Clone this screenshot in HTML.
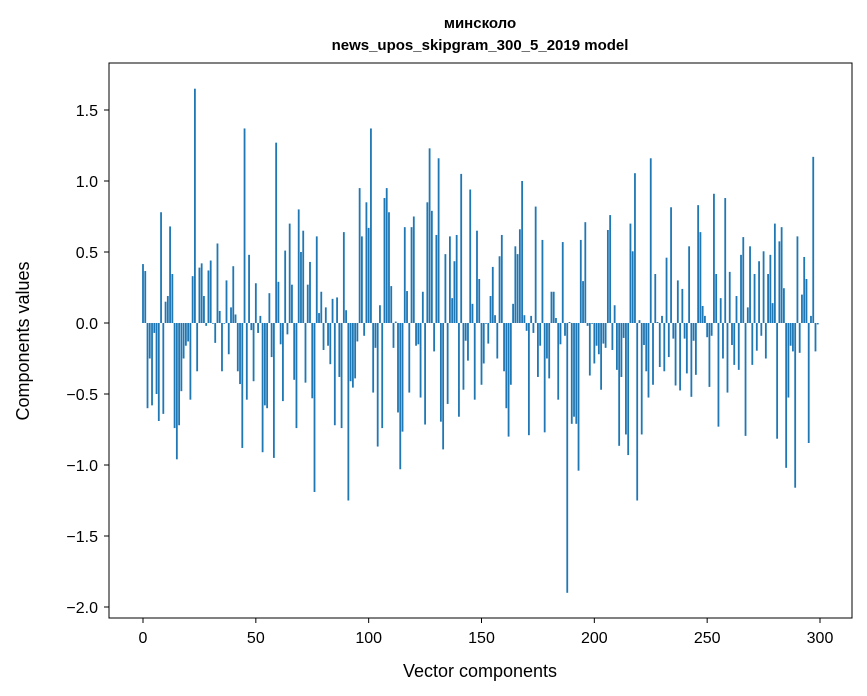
<!DOCTYPE html>
<html><head><meta charset="utf-8"><style>
html,body{margin:0;padding:0;background:#fff;}
svg{display:block;font-family:"Liberation Sans","DejaVu Sans",sans-serif;}
</style></head><body>
<svg id="chart" width="867" height="696" viewBox="0 0 867 696">
<rect x="0" y="0" width="867" height="696" fill="#fff"/>
<text x="480" y="28" text-anchor="middle" font-size="15" font-weight="bold">минсколо</text>
<text x="480" y="50" text-anchor="middle" font-size="15" font-weight="bold">news_upos_skipgram_300_5_2019 model</text>
<g id="bars"></g>
<rect x="109" y="63" width="743" height="555" fill="none" stroke="#000" stroke-width="1"/>
<g id="xticks"></g>
<g id="yticks"></g>
<text x="480" y="677" text-anchor="middle" font-size="18">Vector components</text>
<text transform="translate(29,341) rotate(-90)" text-anchor="middle" font-size="18">Components values</text>
</svg>
<script>
const values = [
0.415,0.366,-0.6,-0.25,-0.58,-0.07,-0.5,-0.69,0.78,-0.64,
0.15,0.19,0.68,0.345,-0.74,-0.96,-0.72,-0.48,-0.25,-0.16,
-0.13,-0.54,0.33,1.65,-0.34,0.39,0.42,0.19,-0.02,0.37,
0.44,-0.005,-0.14,0.56,0.085,-0.34,-0.005,0.30,-0.22,0.11,
0.40,0.06,-0.34,-0.43,-0.88,1.37,-0.54,0.48,-0.05,-0.41,
0.28,-0.07,0.05,-0.91,-0.58,-0.6,0.21,-0.24,-0.95,1.27,
0.29,-0.15,-0.55,0.51,-0.08,0.70,0.27,-0.40,-0.74,0.80,
0.50,0.65,-0.42,0.27,0.43,-0.53,-1.19,0.61,0.07,0.22,
-0.19,0.11,-0.16,-0.29,0.17,-0.72,0.18,-0.38,-0.74,0.64,
0.09,-1.25,-0.41,-0.455,-0.39,-0.13,0.95,0.61,-0.09,0.85,
0.67,1.37,-0.49,-0.175,-0.87,0.125,-0.74,0.88,0.95,0.78,
0.26,-0.175,0.01,-0.63,-1.03,-0.765,0.675,0.225,-0.49,0.675,
0.75,-0.16,-0.15,-0.525,0.22,-0.715,0.85,1.23,0.79,-0.2,
0.62,1.16,-0.695,-0.89,0.485,-0.57,0.61,0.175,0.435,0.62,
-0.66,1.05,-0.47,-0.125,-0.265,0.94,0.135,-0.54,0.65,0.31,
-0.435,-0.285,-0.005,-0.145,0.19,0.395,0.055,-0.25,0.47,0.62,
-0.34,-0.6,-0.8,-0.435,0.135,0.54,0.485,0.66,1.0,0.055,
-0.055,-0.79,0.05,-0.07,0.82,-0.38,-0.16,0.585,-0.77,-0.25,
-0.39,0.22,0.22,0.035,-0.54,-0.15,0.57,-0.09,-1.9,0.007,
-0.71,-0.66,-0.71,-1.04,0.585,0.295,0.71,-0.02,-0.37,-0.005,
-0.285,-0.16,-0.22,-0.47,-0.145,-0.175,0.655,0.76,-0.19,0.125,
-0.33,-0.865,-0.38,-0.105,-0.785,-0.93,0.70,0.505,1.055,-1.25,
0.02,-0.785,-0.155,-0.34,-0.525,1.16,-0.435,0.345,0.007,-0.31,
0.05,-0.34,0.46,-0.24,0.815,-0.11,-0.44,0.30,-0.475,0.24,
-0.11,-0.355,0.54,-0.52,-0.125,-0.365,0.83,0.64,0.12,0.05,
-0.1,-0.45,-0.09,0.91,0.345,-0.73,0.175,-0.25,0.88,-0.49,
0.36,-0.155,-0.295,0.19,-0.33,0.48,0.605,-0.795,0.11,0.54,
-0.295,0.345,-0.195,0.435,-0.09,0.505,-0.25,0.345,0.48,0.14,
0.70,-0.815,0.575,0.675,0.245,-1.02,-0.525,-0.16,-0.2,-1.16,
0.61,-0.21,0.20,0.465,0.31,-0.845,0.05,1.17,-0.2,-0.01
];
const xTickValues = [0,50,100,150,200,250,300];
const xTickLabels = ["0","50","100","150","200","250","300"];
const yTickValues = [1.5,1.0,0.5,0.0,-0.5,-1.0,-1.5,-2.0];
const yTickLabels = ["1.5","1.0","0.5","0.0","\u22120.5","\u22121.0","\u22121.5","\u22122.0"];

const NS = "http://www.w3.org/2000/svg";
function xScale(v){ return 143 + v * (677 / 300); }
function yScale(v){ return 323 - v * 142; }
const barW = 0.8 * (677 / 300);

const gb = document.getElementById('bars');
values.forEach(function(v, i){
  const r = document.createElementNS(NS, 'rect');
  const y0 = yScale(0), y1 = yScale(v);
  r.setAttribute('x', xScale(i) - barW / 2);
  r.setAttribute('y', Math.min(y0, y1));
  r.setAttribute('width', barW);
  r.setAttribute('height', Math.max(Math.abs(y1 - y0), 0.3));
  r.setAttribute('fill', '#1f77b4');
  
  
  gb.appendChild(r);
});

const gx = document.getElementById('xticks');
xTickValues.forEach(function(v, i){
  const x = xScale(v);
  const l = document.createElementNS(NS, 'line');
  l.setAttribute('x1', x); l.setAttribute('x2', x);
  l.setAttribute('y1', 618); l.setAttribute('y2', 623);
  l.setAttribute('stroke', '#000');
  
  
  gx.appendChild(l);
  const t = document.createElementNS(NS, 'text');
  t.setAttribute('x', x); t.setAttribute('y', 643);
  t.setAttribute('text-anchor', 'middle');
  t.setAttribute('font-size', '16');
  t.textContent = xTickLabels[i];
  
  
  gx.appendChild(t);
});

const gy = document.getElementById('yticks');
yTickValues.forEach(function(v, i){
  const y = yScale(v);
  const l = document.createElementNS(NS, 'line');
  l.setAttribute('x1', 104); l.setAttribute('x2', 109);
  l.setAttribute('y1', y); l.setAttribute('y2', y);
  l.setAttribute('stroke', '#000');
  
  
  gy.appendChild(l);
  const t = document.createElementNS(NS, 'text');
  t.setAttribute('x', 98); t.setAttribute('y', y + 6);
  t.setAttribute('text-anchor', 'end');
  t.setAttribute('font-size', '16');
  t.textContent = yTickLabels[i];
  
  
  gy.appendChild(t);
});
</script>
</body></html>
